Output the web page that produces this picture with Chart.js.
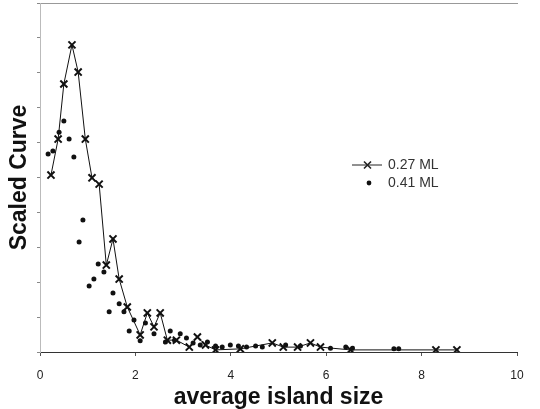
<!DOCTYPE html>
<html>
<head>
<meta charset="utf-8">
<script src="https://cdn.jsdelivr.net/npm/chart.js@4.4.1/dist/chart.umd.min.js"></script>
<style>
  html, body { margin: 0; padding: 0; background: #fff; }
  #wrap { width: 540px; height: 409px; }
</style>
</head>
<body>
<div id="wrap"><canvas id="islandChart"></canvas></div>
<script>
// 0.27 ML: crosses joined by a line
var size027 = [0.23, 0.38, 0.50, 0.67, 0.80, 0.95, 1.09, 1.24, 1.39, 1.53, 1.66, 1.83, 2.10, 2.25, 2.39, 2.52,
    2.67, 2.86, 3.13, 3.30, 3.47, 3.68, 4.20, 4.87, 5.10, 5.40, 5.67, 5.88, 6.51, 8.30, 8.74];
var curve027 = [5.07, 6.10, 7.68, 8.80, 8.02, 6.10, 4.99, 4.81, 2.49, 3.24, 2.09, 1.29, 0.49, 1.12, 0.72, 1.12,
    0.34, 0.34, 0.14, 0.43, 0.20, 0.06, 0.09, 0.26, 0.14, 0.14, 0.26, 0.14, 0.06, 0.06, 0.06];

// 0.41 ML: dots only
var size041 = [0.17, 0.27, 0.40, 0.50, 0.61, 0.71, 0.82, 0.90, 1.03, 1.13, 1.22, 1.34, 1.45, 1.53, 1.66, 1.76,
    1.87, 1.97, 2.10, 2.21, 2.39, 2.63, 2.73, 2.82, 2.94, 3.07, 3.21, 3.36, 3.51, 3.68, 3.82, 3.99, 4.16, 4.33,
    4.52, 4.66, 5.15, 5.46, 6.09, 6.41, 6.55, 7.42, 7.52];
var curve041 = [5.67, 5.76, 6.30, 6.62, 6.10, 5.59, 3.15, 3.78, 1.89, 2.09, 2.52, 2.29, 1.15, 1.69, 1.38, 1.15,
    0.60, 0.92, 0.32, 0.83, 0.52, 0.29, 0.60, 0.34, 0.52, 0.40, 0.26, 0.20, 0.29, 0.17, 0.14, 0.20, 0.17, 0.14,
    0.17, 0.14, 0.20, 0.17, 0.11, 0.14, 0.11, 0.09, 0.09];

var seriesNames = ['0.27 ML', '0.41 ML'];
var xTicks = [0, 2, 4, 6, 8, 10];

function toPoints(xs, ys) {
    return xs.map(function (x, i) { return { x: x, y: ys[i] }; });
}

// legend drawn inside the plot, like the original figure
var insideLegend = {
    id: 'insideLegend',
    afterDraw: function (chart) {
        var ctx = chart.ctx;
        ctx.save();
        ctx.fillStyle = '#333';
        ctx.strokeStyle = '#222';
        ctx.font = '14px "Liberation Sans", Arial, sans-serif';
        ctx.textBaseline = 'middle';

        // row 1: line with cross
        var y1 = 165;
        ctx.lineWidth = 1;
        ctx.beginPath();
        ctx.moveTo(352, y1);
        ctx.lineTo(382, y1);
        ctx.stroke();
        ctx.lineWidth = 1.6;
        ctx.beginPath();
        ctx.moveTo(364, y1 - 3.5); ctx.lineTo(371, y1 + 3.5);
        ctx.moveTo(371, y1 - 3.5); ctx.lineTo(364, y1 + 3.5);
        ctx.stroke();
        ctx.fillText(seriesNames[0], 388, y1);

        // row 2: dot
        var y2 = 183;
        ctx.fillStyle = '#111';
        ctx.beginPath();
        ctx.arc(369, y2, 2.4, 0, Math.PI * 2);
        ctx.fill();
        ctx.fillStyle = '#333';
        ctx.fillText(seriesNames[1], 388, y2);
        ctx.restore();
    }
};

const islandChart = document.getElementById('islandChart');
var myChart = new Chart(islandChart, {
    type: 'scatter',
    data: {
        datasets: [{
            label: seriesNames[0],
            data: toPoints(size027, curve027),
            showLine: true,
            borderColor: '#111',
            borderWidth: 1,
            pointStyle: 'crossRot',
            pointRadius: 5,
            pointBorderWidth: 2,
            pointBorderColor: '#111',
            tension: 0
        }, {
            label: seriesNames[1],
            data: toPoints(size041, curve041),
            showLine: false,
            pointStyle: 'circle',
            pointRadius: 2.5,
            pointBorderWidth: 0,
            backgroundColor: '#111',
            pointBackgroundColor: '#111'
        }]
    },
    options: {
        responsive: true,
        maintainAspectRatio: false,
        animation: false,
        layout: { autoPadding: false, padding: { top: 3, right: 23, left: 0, bottom: 0 } },
        plugins: {
            legend: { display: false },
            tooltip: { enabled: false }
        },
        scales: {
            x: {
                type: 'linear',
                min: 0,
                max: 10,
                afterBuildTicks: function (axis) {
                    axis.ticks = xTicks.map(function (v) { return { value: v }; });
                },
                afterFit: function (axis) { axis.height = 57; },
                border: { display: true, color: '#333', width: 1 },
                grid: { display: true, drawOnChartArea: false, tickLength: 4, color: '#555' },
                ticks: {
                    color: '#222',
                    padding: 12,
                    maxRotation: 0,
                    font: { family: '"Liberation Sans", Arial, sans-serif', size: 12 }
                },
                title: {
                    display: true,
                    text: 'average island size',
                    color: '#111',
                    padding: { top: 0, bottom: -2 },
                    font: { family: '"Liberation Sans", Arial, sans-serif', size: 23, weight: 'bold' }
                }
            },
            xTop: {
                type: 'linear',
                position: 'top',
                min: 0,
                max: 10,
                afterFit: function (axis) { axis.height = 0; },
                border: { display: true, color: '#999', width: 1, dash: [3, 2] },
                grid: { display: false },
                ticks: { display: false }
            },
            y: {
                min: 0,
                max: 10,
                afterFit: function (axis) { axis.width = 40; },
                border: { display: true, color: '#bbb', width: 1, dash: [2, 3] },
                grid: { display: true, drawOnChartArea: false, tickLength: 3, color: '#888' },
                ticks: { display: false, stepSize: 1 },
                title: {
                    display: true,
                    text: 'Scaled Curve',
                    color: '#111',
                    padding: { top: 6, bottom: 0 },
                    font: { family: '"Liberation Sans", Arial, sans-serif', size: 23, weight: 'bold' }
                }
            }
        }
    },
    plugins: [insideLegend]
});
</script>
</body>
</html>
